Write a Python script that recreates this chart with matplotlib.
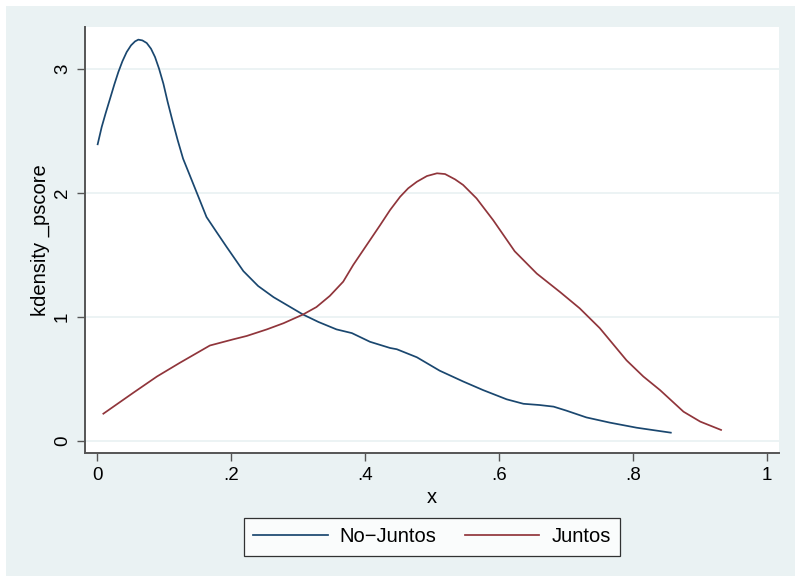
import matplotlib
matplotlib.use("Agg")
import matplotlib.pyplot as plt
from matplotlib.patches import Rectangle

plt.rcParams['font.family'] = ['Liberation Sans', 'DejaVu Sans']

# kernel density of the propensity score
no_juntos_x = [0.0005, 0.0065, 0.0125, 0.019, 0.0254, 0.0314, 0.0374, 0.0438, 0.0503, 0.0563,
               0.0612, 0.0672, 0.0737, 0.0801, 0.0861, 0.0921, 0.0986, 0.105, 0.112, 0.120,
               0.128, 0.138, 0.151, 0.163, 0.178, 0.193, 0.218, 0.240, 0.263, 0.285,
               0.307, 0.330, 0.357, 0.380, 0.407, 0.437, 0.447, 0.477, 0.511, 0.546,
               0.576, 0.611, 0.636, 0.660, 0.681, 0.700, 0.730, 0.765, 0.805, 0.856]
no_juntos_y = [2.393, 2.532, 2.645, 2.761, 2.876, 2.976, 3.062, 3.137, 3.191, 3.223,
               3.237, 3.231, 3.21, 3.164, 3.097, 3.003, 2.882, 2.734, 2.586, 2.425,
               2.277, 2.143, 1.968, 1.806, 1.685, 1.565, 1.37, 1.25, 1.16, 1.09,
               1.02, 0.96, 0.90, 0.87, 0.80, 0.75, 0.74, 0.675, 0.567, 0.48,
               0.41, 0.336, 0.30, 0.29, 0.277, 0.245, 0.19, 0.148, 0.107, 0.067]

juntos_x = [0.009, 0.054, 0.089, 0.123, 0.168, 0.203, 0.223, 0.253, 0.278, 0.307,
            0.327, 0.347, 0.367, 0.382, 0.397, 0.422, 0.437, 0.452, 0.464, 0.477,
            0.492, 0.507, 0.519, 0.534, 0.546, 0.566, 0.591, 0.623, 0.656, 0.691,
            0.720, 0.750, 0.790, 0.815, 0.840, 0.875, 0.900, 0.931]
juntos_y = [0.22, 0.39, 0.52, 0.63, 0.77, 0.82, 0.847, 0.90, 0.95, 1.02,
            1.08, 1.17, 1.285, 1.42, 1.54, 1.74, 1.863, 1.97, 2.038, 2.091,
            2.137, 2.159, 2.153, 2.11, 2.065, 1.957, 1.78, 1.53, 1.35, 1.20,
            1.07, 0.91, 0.65, 0.52, 0.41, 0.236, 0.156, 0.089]

x_ticks = [0, 0.2, 0.4, 0.6, 0.8, 1.0]
x_tick_labels = ["0", ".2", ".4", ".6", ".8", "1"]
y_ticks = [0, 1, 2, 3]
y_tick_labels = ["0", "1", "2", "3"]

navy = "#1A476F"
maroon = "#90353B"
bg = "#EAF2F3"

fig = plt.figure(figsize=(7.95, 5.76), dpi=100)
fig.patch.set_facecolor("white")
# Stata graph region
fig.patches.append(Rectangle((6 / 795, 0), 789 / 795, 570 / 576,
                             transform=fig.transFigure, facecolor=bg,
                             edgecolor="none", zorder=-10))

ax = fig.add_axes([85 / 795, 123 / 576, 694 / 795, 426 / 576])
ax.set_facecolor("white")

ax.plot(no_juntos_x, no_juntos_y, color=navy, lw=1.25, label="No\u2212Juntos")
ax.plot(juntos_x, juntos_y, color=maroon, lw=1.25, label="Juntos")

ax.set_xlim(-0.0184, 1.0175)
ax.set_ylim(-0.097, 3.339)
ax.set_xticks(x_ticks)
ax.set_xticklabels(x_tick_labels)
ax.set_yticks(y_ticks)
ax.set_yticklabels(y_tick_labels, rotation=90, va="center")

ax.grid(axis="y", color=bg, lw=1.3)
ax.set_axisbelow(True)
for side in ["top", "right"]:
    ax.spines[side].set_visible(False)
for side in ["left", "bottom"]:
    ax.spines[side].set_color("#555555")
    ax.spines[side].set_linewidth(1.4)

ax.tick_params(axis="both", direction="out", length=5.8, width=1.0,
               color="#555555", labelsize=13.5, pad=4.3)
ax.set_xlabel("x", fontsize=14.5, labelpad=3)
ax.set_ylabel("kdensity _pscore", fontsize=14.5, labelpad=3)

leg = fig.legend(loc="center", bbox_to_anchor=(432 / 795, 1 - 537 / 576), ncol=2,
                 fontsize=14.5, frameon=True, fancybox=False, handlelength=3.7,
                 handletextpad=0.6, columnspacing=1.4, borderpad=0.45)
leg.get_frame().set_edgecolor("black")
leg.get_frame().set_linewidth(0.9)
leg.get_frame().set_facecolor("white")

fig.savefig("out.png", dpi=100)
